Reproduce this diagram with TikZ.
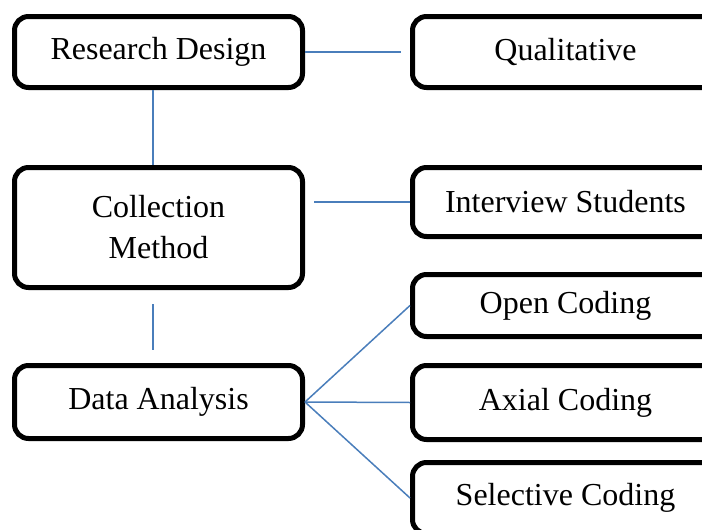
\documentclass[tikz,border=0pt]{standalone}
\usepackage{fontspec}
\setmainfont{Liberation Serif}
\begin{document}
\begin{tikzpicture}[x=1pt,y=-1pt,
        box/.style = {draw,
            line width = 5pt,
            rounded corners = 14pt,
            align = center,
            inner sep = 0pt,
            font = \fontsize{32}{41}\selectfont,
            },
        link/.style = {draw = {rgb,255:red,74;green,126;blue,187},
            line width = 1.5pt,
            }]

    \useasboundingbox (0,0) rectangle (702,530);
    \clip (0,0) rectangle (702,530);

    % Left column
    \node[box,minimum width = 288pt,minimum height = 71pt] (RD) at (158.5,52) {Research Design};
    \node[box,minimum width = 288pt,minimum height = 120pt] (CM) at (158.5,227.5) {Collection\\Method};
    \node[box,minimum width = 288pt,minimum height = 73pt] (DA) at (158.5,402) {Data Analysis};

    % Right column
    \node[box,minimum width = 306pt,minimum height = 71pt] (QL) at (565.5,52) {Qualitative};
    \node[box,minimum width = 306pt,minimum height = 69pt] (IS) at (565.5,202) {Interview Students};
    \node[box,minimum width = 306pt,minimum height = 62pt] (OC) at (565.5,305.5) {Open Coding};
    \node[box,minimum width = 306pt,minimum height = 74pt] (AC) at (565.5,402.5) {Axial Coding};
    \node[box,minimum width = 306pt,minimum height = 71pt] (SC) at (565.5,498) {Selective Coding};

    % Connectors
    \draw[link,shorten >= 9pt] (RD.east) -- (QL.west);
    \draw[link] ([xshift=-5.5pt]RD.south) -- ([xshift=-5.5pt]CM.north);
    \draw[link,shorten <= 9pt] (CM.east |- IS) -- (IS.west);
    \draw[link,shorten <= 14pt,shorten >= 13pt] ([xshift=-5.5pt]CM.south) -- ([xshift=-5.5pt]DA.north);
    \draw[link] (DA.east) -- (OC.west);
    \draw[link] (DA.east) -- (AC.west);
    \draw[link] (DA.east) -- (SC.west);

\end{tikzpicture}
\end{document}
